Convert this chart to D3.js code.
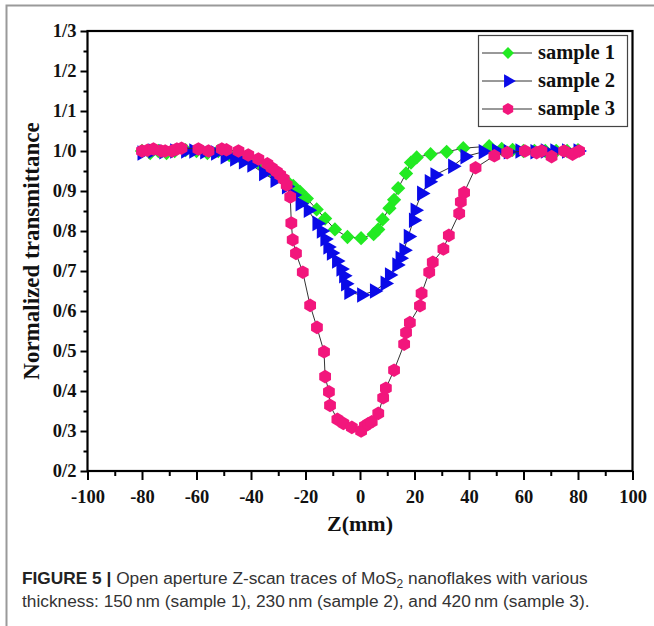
<!DOCTYPE html>
<html><head><meta charset="utf-8">
<script src="https://cdn.jsdelivr.net/npm/d3@7"></script>
<style>body{margin:0;background:#fff}svg{display:block}</style>
</head><body><svg id="c" width="654" height="626"></svg>
<script>
const seriesNames = ["sample 1", "sample 2", "sample 3"];
const xTicks = [-100, -80, -60, -40, -20, 0, 20, 40, 60, 80, 100];
const yTicks = [0.2, 0.3, 0.4, 0.5, 0.6, 0.7, 0.8, 0.9, 1.0, 1.1, 1.2, 1.3];
const sample1Z = [-80,-77,-74,-71,-68,-64,-60,-56,-52,-48,-44,-40,-36,-33,-30,-27,-24.5,-22,-19.5,-15.9,-12.8,-9.2,-4.6,0.4,5,6.7,8.3,10.8,12.5,14,16.9,18.7,20.8,25.9,31.8,37.9,47.4,52,56,60,64,68,72,76,80];
const sample1T = [1.0,0.995,1.0,0.995,1.0,1.002,1.0,0.995,1.0,0.99,0.985,0.975,0.963,0.952,0.94,0.925,0.913,0.898,0.881,0.854,0.831,0.804,0.785,0.782,0.792,0.804,0.829,0.857,0.878,0.907,0.944,0.971,0.984,0.992,0.998,1.007,1.012,1.005,1.003,1.0,1.0,1.0,1.0,1.0,1.002];
const sample2Z = [-80,-76,-72,-68,-64,-61,-57,-53,-49.5,-46,-42.8,-39.7,-35.4,-31.2,-27,-24.5,-22,-19,-15.8,-14.2,-12.9,-11.8,-10.5,-8.6,-7,-6,-5.3,-4.1,0.6,5.3,9.2,10.8,13.5,14.7,16.1,17.7,19.6,20.2,22.6,25.4,27.5,34,38.5,45.2,50.1,54.4,58.7,64.2,68,71.5,75.8,80];
const sample2T = [0.995,1.0,0.998,1.0,1.0,1.0,0.998,0.995,0.986,0.98,0.973,0.965,0.944,0.927,0.911,0.89,0.868,0.852,0.819,0.8,0.78,0.76,0.745,0.725,0.705,0.688,0.668,0.647,0.64,0.65,0.669,0.69,0.715,0.732,0.752,0.786,0.827,0.852,0.894,0.923,0.94,0.962,0.986,0.998,1.0,0.998,1.0,0.998,1.0,1.0,1.0,1.0];
const sample3Z = [-80,-78,-75.8,-73,-71.5,-69,-67.2,-65.5,-59.3,-55.6,-50.7,-49,-44.6,-41,-37.3,-34,-32.4,-30.5,-29.3,-28,-26.9,-25.6,-25.2,-24.7,-23.5,-21,-18.3,-15.8,-13.2,-12.8,-11.4,-11,-8.3,-6.1,-3.0,0.4,1.8,3,4.3,6.7,8.5,9.5,12.5,16.2,16.9,18.3,22,22.6,25.4,26.7,30.6,32.6,36.4,37,38.2,42.4,49.3,54,60.5,64.8,66.6,70.3,74.9,78,80.4];
const sample3T = [1.0,1.002,1.005,1.0,1.0,1.0,1.005,1.007,1.005,1.0,1.005,1.003,1.0,0.99,0.98,0.968,0.958,0.948,0.94,0.93,0.915,0.885,0.82,0.778,0.744,0.697,0.614,0.559,0.498,0.436,0.398,0.364,0.329,0.319,0.309,0.300,0.3125,0.318,0.323,0.344,0.383,0.407,0.452,0.517,0.546,0.571,0.613,0.644,0.697,0.722,0.755,0.789,0.844,0.873,0.896,0.958,0.988,0.996,1.0,0.996,1.0,0.986,1.0,0.992,1.0];
const colors = ["#22EA22", "#0A0AE8", "#F2167C"];
const xTitle = "Z(mm)";
const yTitle = "Normalized transmittance";

const svg = d3.select("#c");
svg.append("rect").attr("width",654).attr("height",626).attr("fill","#fff");
svg.append("path").attr("d","M6.5,626V5.5H654").attr("fill","none").attr("stroke","#9a9a9a").attr("stroke-width",2);

const L=87.5, R=632.5, T=31, B=471;
const x = d3.scaleLinear().domain([-100,100]).range([L,R]);
const y = d3.scaleLinear().domain([0.2,1.3]).range([B,T]);
const serif = "'Liberation Serif','Times New Roman',serif";

// axes
const xMinor = d3.range(-90,100,20);
const yMinor = d3.range(0.25,1.3,0.1);
const gx = svg.append("g").attr("transform",`translate(0,${B})`)
  .call(d3.axisBottom(x).tickValues(xTicks).tickSize(9).tickPadding(5).tickFormat(d=>String(d)));
svg.append("g").attr("transform",`translate(0,${B})`)
  .call(d3.axisBottom(x).tickValues(xMinor).tickSize(5).tickFormat(""));
const gy = svg.append("g").attr("transform",`translate(${L},0)`)
  .call(d3.axisLeft(y).tickValues(yTicks).tickSize(7).tickPadding(4).tickFormat(d=>d.toFixed(1).replace(".","/")));
svg.append("g").attr("transform",`translate(${L},0)`)
  .call(d3.axisLeft(y).tickValues(yMinor).tickSize(4).tickFormat(""));
svg.selectAll(".domain").remove();
svg.selectAll(".tick line").attr("stroke","#000").attr("stroke-width",2);
svg.selectAll(".tick text").attr("font-family",serif).attr("font-weight","bold").attr("font-size",18.5).attr("fill","#111");
gx.selectAll(".tick text").attr("dy","0.95em");
svg.append("rect").attr("x",L).attr("y",T).attr("width",R-L).attr("height",B-T)
  .attr("fill","none").attr("stroke","#000").attr("stroke-width",2.2);

// titles
svg.append("text").attr("x",(L+R)/2).attr("y",531).attr("text-anchor","middle")
  .attr("font-family",serif).attr("font-weight","bold").attr("font-size",22).attr("fill","#111").text(xTitle);
svg.append("text").attr("transform",`translate(39,${(T+B)/2}) rotate(-90)`).attr("text-anchor","middle")
  .attr("font-family",serif).attr("font-weight","bold").attr("font-size",23).attr("fill","#111").text(yTitle);

// markers
const hex = r => { const p=d3.range(6).map(i=>{const a=Math.PI/6+i*Math.PI/3;return [r*Math.cos(a),r*Math.sin(a)];}); return "M"+p.join("L")+"Z"; };
const shapes = [
  d3.symbol(d3.symbolDiamond2 || d3.symbolDiamond, 130)(),
  d3.symbol(d3.symbolTriangle, 105)(),
  hex(6.8)
];
const legendShapes = [
  d3.symbol(d3.symbolDiamond2 || d3.symbolDiamond, 90)(),
  d3.symbol(d3.symbolTriangle, 80)(),
  hex(6)
];
const rot = [0, 90, 0];
const data = [
  sample1Z.map((z,i)=>({z, t:sample1T[i]})),
  sample2Z.map((z,i)=>({z, t:sample2T[i]})),
  sample3Z.map((z,i)=>({z, t:sample3T[i]}))
];
const line = d3.line().x(d=>x(d.z)).y(d=>y(d.t));
data.forEach((ds,k)=>{
  const g = svg.append("g");
  g.append("path").attr("d",line(ds)).attr("fill","none").attr("stroke","#333").attr("stroke-width",1);
  g.selectAll("path.m").data(ds).join("path").attr("class","m")
    .attr("d",shapes[k]).attr("fill",colors[k])
    .attr("transform",d=>`translate(${x(d.z)},${y(d.t)}) rotate(${rot[k]})`);
});

// legend
const lg = svg.append("g");
lg.append("rect").attr("x",478.5).attr("y",35.5).attr("width",149).attr("height",91)
  .attr("fill","#fff").attr("stroke","#444").attr("stroke-width",1.2);
seriesNames.forEach((n,k)=>{
  const yy = 53 + k*28;
  lg.append("line").attr("x1",482).attr("x2",532).attr("y1",yy).attr("y2",yy).attr("stroke","#333").attr("stroke-width",1);
  lg.append("path").attr("d",legendShapes[k]).attr("fill",colors[k]).attr("transform",`translate(508,${yy}) rotate(${rot[k]})`);
  lg.append("text").attr("x",538).attr("y",yy+6).attr("font-family",serif).attr("font-weight","bold")
    .attr("font-size",20.5).attr("fill","#111").text(n);
});

// caption
const sans = "'Liberation Sans',Arial,sans-serif";
const c1 = svg.append("text").attr("x",22).attr("y",584).attr("font-family",sans).attr("font-size",17.3).attr("fill","#333");
c1.append("tspan").attr("font-weight","bold").attr("fill","#222").text("FIGURE 5 | ");
c1.append("tspan").text("Open aperture Z-scan traces of MoS");
c1.append("tspan").attr("font-size",12).attr("dy",4).text("2");
c1.append("tspan").attr("dy",-4).text(" nanoflakes with various");
svg.append("text").attr("x",22).attr("y",607).attr("font-family",sans).attr("font-size",17.3).attr("fill","#333")
  .text("thickness: 150\u2009nm (sample 1), 230\u2009nm (sample 2), and 420\u2009nm (sample 3).");
</script></body></html>
